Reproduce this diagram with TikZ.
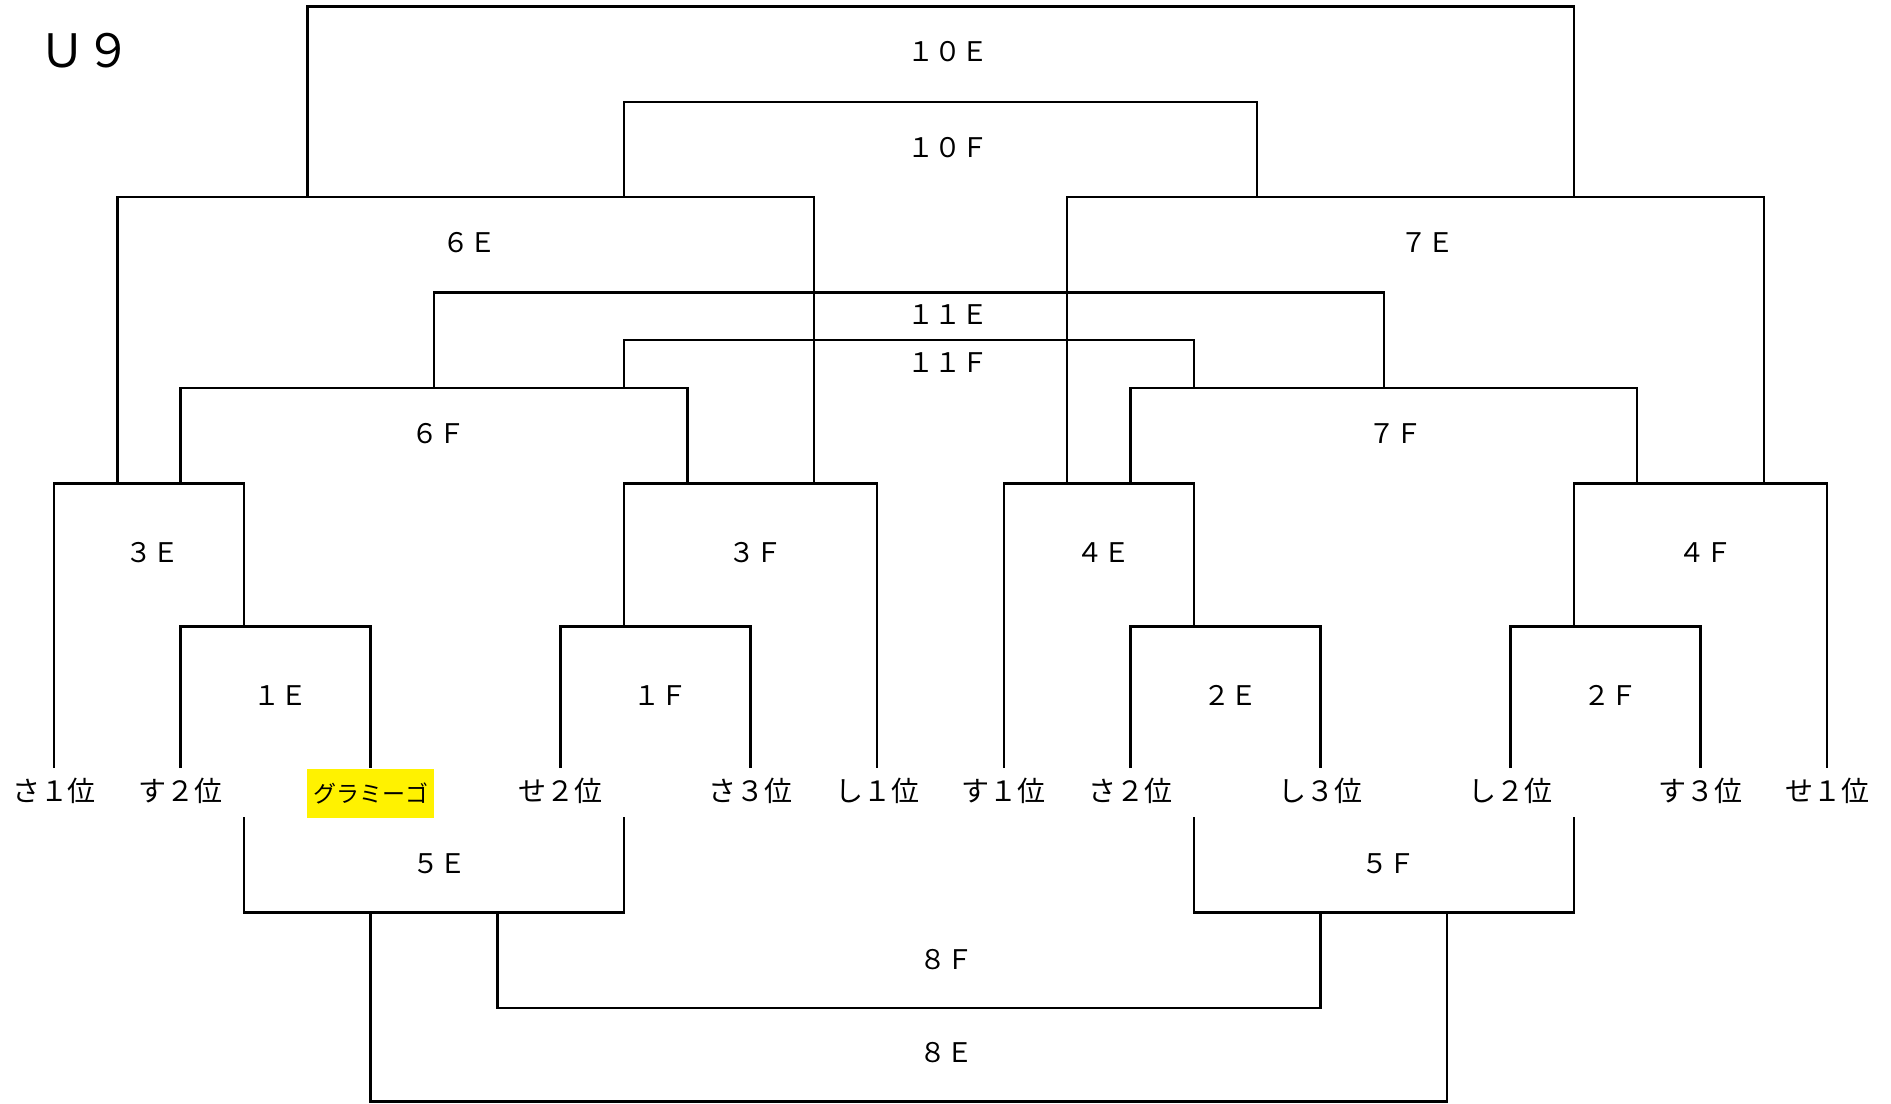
\documentclass[tikz,border=0pt]{standalone}
\usepackage{fontspec}
\newfontfamily\jpfont{Noto Sans CJK JP}

\begin{document}
\begin{tikzpicture}[x=31.665pt, y=-47.7pt, line width=1.2pt,
    lbl/.style={font=\jpfont\fontsize{13.5}{16}\selectfont, inner sep=0pt},
    team/.style={font=\jpfont\fontsize{14}{16}\selectfont, inner sep=0pt, minimum height=21.4pt}]
    \useasboundingbox (-0.8527,-0.066) rectangle (29.007,11.496);

    \node[font=\jpfont\fontsize{23}{28}\selectfont, inner sep=0pt] (title) at (0.49,0.469) {Ｕ９};

    % teams
    \foreach \n/\x/\t in {sa1/0/さ１位, su2/2/す２位, se2/8/せ２位, sa3/11/さ３位, shi1/13/し１位,
        su1/15/す１位, sa2/17/さ２位, shi3/20/し３位, shi2/23/し２位, su3/26/す３位, se1/28/せ１位}{
            \node[team] (\n) at (\x,8.222) {\t};
        }
    \node[team, fill=yellow, minimum width=63.33pt, minimum height=24.25pt, font=\jpfont\fontsize{11.5}{14}\selectfont] (gra) at (5,8.252) {グラミーゴ};

    % points where a match line leaves its bracket
    \foreach \n/\x/\y in {1E-up/3/6.5, 1E-dn/3/8.5, 1F-up/9/6.5, 1F-dn/9/8.5,
        2E-up/18/6.5, 2E-dn/18/8.5, 2F-up/24/6.5, 2F-dn/24/8.5,
        3E-e/1/5, 3E-f/2/5, 3F-e/12/5, 3F-f/10/5, 4E-e/16/5, 4E-f/17/5, 4F-e/27/5, 4F-f/25/5,
        6F-e/6/4, 6F-f/9/4, 7F-e/21/4, 7F-f/18/4, 6E-e/4/2, 6E-f/9/2, 7E-e/24/2, 7E-f/19/2,
        5E-e/5/9.5, 5E-f/7/9.5, 5F-e/22/9.5, 5F-f/20/9.5,
        b10E/14/0, b10F/14/1, b11E/14/3, b11F/14/3.5, b8F/14/10.5, b8E/14/11.48}{
            \coordinate (\n) at (\x,\y);
        }

    \draw (su2.north) |- (1E-up) -| (gra.north);
    \draw (se2.north) |- (1F-up) -| (sa3.north);
    \draw (sa2.north) |- (2E-up) -| (shi3.north);
    \draw (shi2.north) |- (2F-up) -| (su3.north);
    \draw (sa1.north) |- (3E-e) -| (1E-up);
    \draw (1F-up) |- (3F-f) -| (shi1.north);
    \draw (su1.north) |- (4E-e) -| (2E-up);
    \draw (2F-up) |- (4F-f) -| (se1.north);
    \draw (3E-e) |- (6E-e) -| (3F-e);
    \draw (3E-f) |- (6F-e) -| (3F-f);
    \draw (4E-e) |- (7E-f) -| (4F-e);
    \draw (4E-f) |- (7F-f) -| (4F-f);
    \draw (6E-e) |- (b10E) -| (7E-e);
    \draw (6E-f) |- (b10F) -| (7E-f);
    \draw (6F-e) |- (b11E) -| (7F-e);
    \draw (6F-f) |- (b11F) -| (7F-f);
    \draw (1E-dn) |- (5E-e) -| (1F-dn);
    \draw (2E-dn) |- (5F-f) -| (2F-dn);
    \draw (5E-f) |- (b8F) -| (5F-f);
    \draw (5E-e) |- (b8E) -| (5F-e);

    % match labels
    \node[lbl] (l10E) at (14.11,0.47) {１０Ｅ};
    \node[lbl] (l10F) at (14.11,1.48) {１０Ｆ};
    \node[lbl] (l6E) at (6.56,2.48) {６Ｅ};
    \node[lbl] (l7E) at (21.69,2.48) {７Ｅ};
    \node[lbl] (l11E) at (14.11,3.236) {１１Ｅ};
    \node[lbl] (l11F) at (14.11,3.736) {１１Ｆ};
    \node[lbl] (l6F) at (6.07,4.48) {６Ｆ};
    \node[lbl] (l7F) at (21.19,4.48) {７Ｆ};
    \node[lbl] (l3E) at (1.56,5.727) {３Ｅ};
    \node[lbl] (l3F) at (11.07,5.727) {３Ｆ};
    \node[lbl] (l4E) at (16.57,5.727) {４Ｅ};
    \node[lbl] (l4F) at (26.07,5.727) {４Ｆ};
    \node[lbl] (l1E) at (3.57,7.22) {１Ｅ};
    \node[lbl] (l1F) at (9.58,7.22) {１Ｆ};
    \node[lbl] (l2E) at (18.58,7.22) {２Ｅ};
    \node[lbl] (l2F) at (24.57,7.22) {２Ｆ};
    \node[lbl] (l5E) at (6.08,8.983) {５Ｅ};
    \node[lbl] (l5F) at (21.08,8.983) {５Ｆ};
    \node[lbl] (l8F) at (14.1,9.997) {８Ｆ};
    \node[lbl] (l8E) at (14.1,10.97) {８Ｅ};
\end{tikzpicture}
\end{document}
